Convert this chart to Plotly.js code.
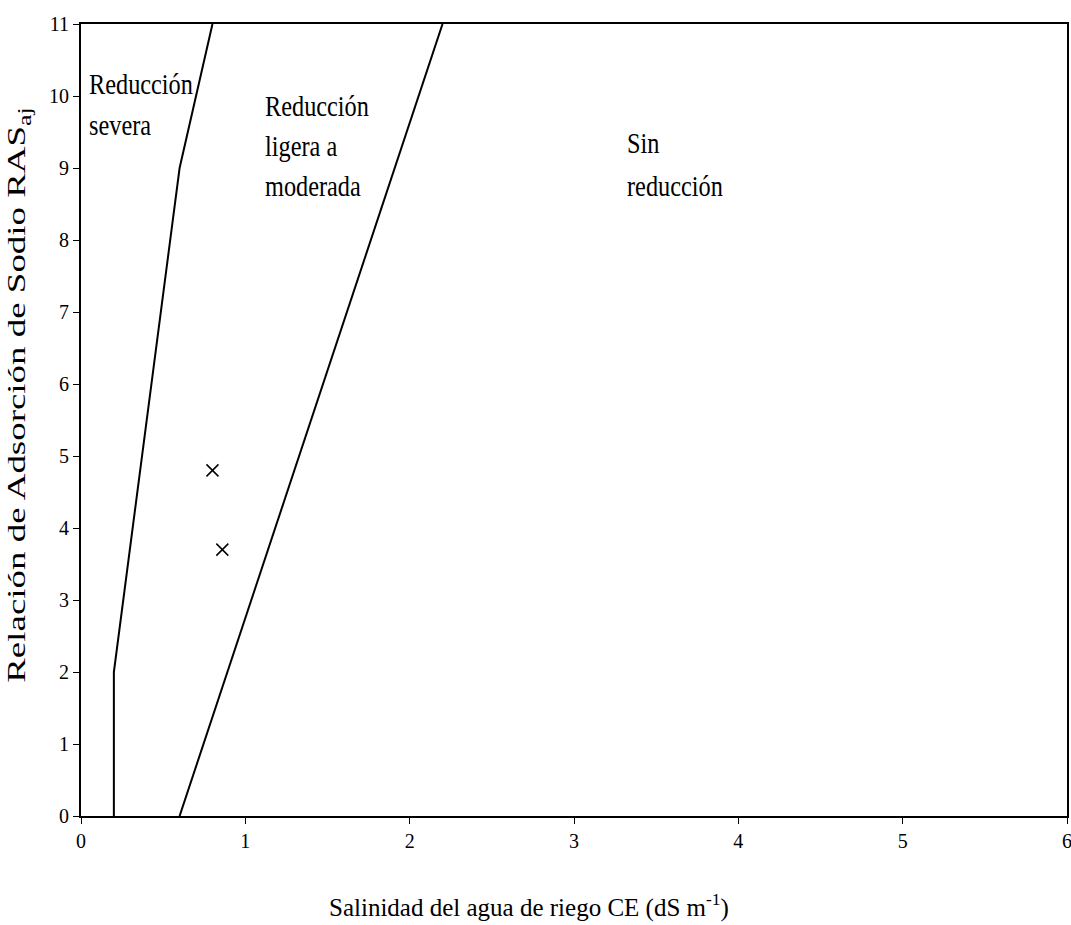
<!DOCTYPE html>
<html><head><meta charset="utf-8">
<script src="https://cdn.plot.ly/plotly-3.0.1.min.js"></script>
<style>html,body{margin:0;padding:0;background:#fff}#chart{width:1071px;height:925px}</style>
</head><body><div id="chart"></div>
<script>
// Boundary lines of the zones (CE in dS/m, RAS adjusted)
const severeX = [0.2, 0.2, 0.6, 0.8];
const severeY = [0, 2, 9, 11];
const slightX = [0.6, 2.2];
const slightY = [0, 11];
// Water samples
const sampleX = [0.8, 0.86];
const sampleY = [4.8, 3.7];
// Ticks
const xTicks = [0, 1, 2, 3, 4, 5, 6];
const yTicks = [0, 1, 2, 3, 4, 5, 6, 7, 8, 9, 10, 11];
// Zone labels, one entry per text line
const zoneLines = ["Reducción", "severa", "Reducción", "ligera a", "moderada", "Sin", "reducción"];
const xTitle = 'Salinidad del agua de riego CE (dS m<sup>-1</sup>)';
const yTitle = 'Relación de Adsorción de Sodio RAS<sub>aj</sub>';

// label placement (layout, not data)
const lineAnchorX = [0.036, 0.036, 1.11, 1.11, 1.11, 3.31, 3.31];
const lineAnchorY = [10.17, 9.60, 9.875, 9.31, 8.76, 9.35, 8.76];

const serif = 'Liberation Serif';
const lineStyle = {color: '#000', width: 2};
const data = [
  {x: severeX, y: severeY, mode: 'lines', line: lineStyle, hoverinfo: 'skip'},
  {x: slightX, y: slightY, mode: 'lines', line: lineStyle, hoverinfo: 'skip'},
  {x: sampleX, y: sampleY, mode: 'markers', marker: {symbol: 'x-thin-open', size: 12, color: '#000', line: {color: '#000', width: 1.5}}}
];
const annotations = zoneLines.map((t, i) => ({
  x: lineAnchorX[i], y: lineAnchorY[i], xref: 'x', yref: 'y', text: t, showarrow: false,
  xanchor: 'left', yanchor: 'middle', align: 'left',
  font: {family: serif, size: 30, color: '#000'}
}));
annotations.push({
  x: 0.4544, y: -0.1124, xref: 'paper', yref: 'paper', text: xTitle, showarrow: false,
  xanchor: 'center', yanchor: 'middle', font: {family: serif, size: 25, color: '#000'}
});
annotations.push({
  x: -0.0639, y: 0.532, xref: 'paper', yref: 'paper', text: yTitle, showarrow: false,
  textangle: -90, xanchor: 'center', yanchor: 'middle', font: {family: serif, size: 26, color: '#000'}
});
// horizontal scale of each text (the reference's type is narrow and tall); 1 = unchanged
const textScale = zoneLines.map(() => 0.81).concat([1, 1.42]);

const layout = {
  width: 1071, height: 925,
  margin: {l: 81, r: 4, t: 24, b: 109},
  paper_bgcolor: '#fff', plot_bgcolor: '#fff',
  showlegend: false,
  font: {family: serif, color: '#000'},
  xaxis: {
    range: [0, 6], tickvals: xTicks, ticktext: xTicks.map(String),
    showgrid: false, zeroline: false, showline: true, mirror: true,
    linecolor: '#000', linewidth: 2, ticks: 'outside', ticklen: 6, tickcolor: '#000', tickwidth: 1,
    ticklabeloverflow: 'allow',
    tickfont: {size: 20, family: serif}
  },
  yaxis: {
    range: [0, 11], tickvals: yTicks, ticktext: yTicks.map(String),
    showgrid: false, zeroline: false, showline: true, mirror: true,
    linecolor: '#000', linewidth: 2, ticks: 'outside', ticklen: 6, tickcolor: '#000', tickwidth: 1,
    ticklabeloverflow: 'allow',
    tickfont: {size: 20, family: serif}
  },
  annotations: annotations
};
Plotly.newPlot('chart', data, layout, {displayModeBar: false, staticPlot: true}).then(gd => {
  gd.querySelectorAll('g.annotation').forEach(g => {
    const idx = +g.getAttribute('data-index');
    const t = g.querySelector('text.annotation-text');
    if (!t || !(idx in textScale) || textScale[idx] === 1) return;
    const w = t.getComputedTextLength();
    if (w > 0) {
      t.setAttribute('textLength', (w * textScale[idx]).toFixed(1));
      t.setAttribute('lengthAdjust', 'spacingAndGlyphs');
    }
  });
});
</script></body></html>
